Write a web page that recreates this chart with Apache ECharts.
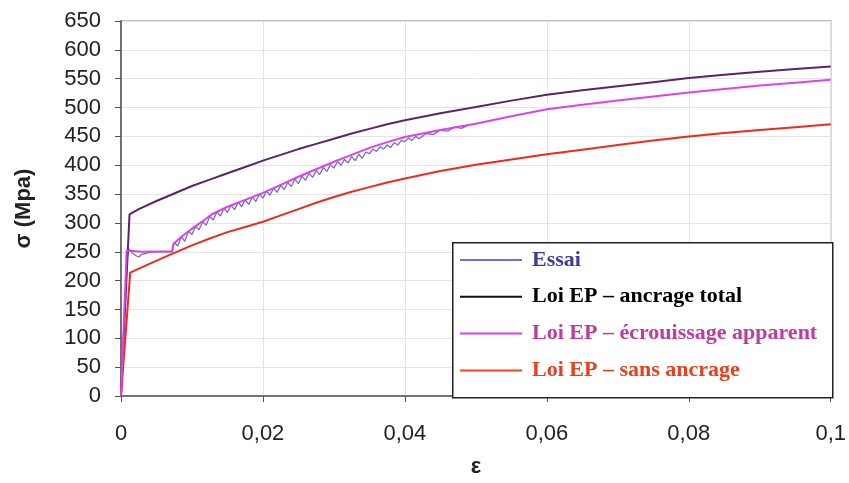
<!DOCTYPE html>
<html><head><meta charset="utf-8">
<script src="https://cdn.jsdelivr.net/npm/echarts@6/dist/echarts.min.js"></script>
<style>html,body{margin:0;padding:0;background:#fff}#c{width:849px;height:483px}</style>
</head><body><div id="c"></div>
<script>
// strain values (ε) and stress values (σ, MPa)
const epsTotal = [0, 0.0012, 0.0025, 0.005, 0.0075, 0.01, 0.0125, 0.015, 0.0175, 0.02, 0.0225, 0.025, 0.0275, 0.03, 0.0325, 0.035, 0.0375, 0.04, 0.045, 0.05, 0.055, 0.06, 0.065, 0.07, 0.075, 0.08, 0.085, 0.09, 0.095, 0.1];
const sigTotal = [0, 315, 324, 338, 351, 364, 375, 386, 397, 408, 418, 428, 437, 446, 455, 463, 471, 478, 490, 501, 512, 522, 530, 537, 544, 551, 557, 562, 567, 571];

const epsApp = [0, 0.0008, 0.003, 0.0072, 0.0074, 0.0085, 0.01, 0.0115, 0.0128, 0.015, 0.0175, 0.02, 0.0225, 0.025, 0.0275, 0.03, 0.0325, 0.035, 0.0375, 0.04, 0.045, 0.05, 0.055, 0.06, 0.065, 0.07, 0.075, 0.08, 0.085, 0.09, 0.095, 0.1];
const sigApp = [0, 252, 250, 251, 264, 276, 290, 303, 315, 328, 340, 352, 366, 380, 393, 406, 418, 430, 440, 449, 461, 472, 485, 497, 505, 512, 519, 526, 532, 538, 543, 548];

const epsSans = [0, 0.0013, 0.004, 0.0071, 0.01, 0.0125, 0.015, 0.0175, 0.02, 0.0225, 0.025, 0.0275, 0.03, 0.0325, 0.035, 0.0375, 0.04, 0.045, 0.05, 0.055, 0.06, 0.065, 0.07, 0.075, 0.08, 0.085, 0.09, 0.095, 0.1];
const sigSans = [0, 214, 229, 246, 261, 273, 284, 293, 302, 313, 324, 335, 345, 354, 362, 370, 377, 390, 401, 410, 419, 427, 435, 443, 450, 456, 461, 466, 471];

const epsEssai = [0, 0.0004, 0.0008, 0.0011, 0.0016, 0.002, 0.0025, 0.003, 0.0035, 0.004, 0.005, 0.006, 0.0072,
  0.0075, 0.008, 0.0085, 0.009, 0.0095, 0.01, 0.0105, 0.011, 0.0115, 0.012, 0.0125, 0.013, 0.0135, 0.014, 0.0145, 0.015,
  0.0155, 0.016, 0.0165, 0.017, 0.0175, 0.018, 0.0185, 0.019, 0.0195, 0.02, 0.0205, 0.021, 0.0215, 0.022, 0.0225, 0.023,
  0.0235, 0.024, 0.0245, 0.025, 0.0255, 0.026, 0.0265, 0.027, 0.0275, 0.028, 0.0285, 0.029, 0.0295, 0.03, 0.0305, 0.031,
  0.0315, 0.032, 0.0325, 0.033, 0.0335, 0.034, 0.0345, 0.035, 0.0355, 0.036, 0.0365, 0.037, 0.0375, 0.038, 0.0385, 0.039,
  0.0395, 0.04, 0.0405, 0.041, 0.0415, 0.042, 0.043, 0.044, 0.045, 0.046, 0.047, 0.048, 0.049];
const sigEssai = [0, 120, 232, 255, 248, 244, 241, 246, 247, 249, 250, 250, 250,
  266, 260, 276, 268, 286, 280, 294, 288, 302, 296, 311, 305, 319, 312, 325, 318,
  331, 323, 336, 328, 340, 332, 345, 337, 350, 343, 355, 348, 360, 353, 365, 358,
  370, 363, 376, 368, 381, 374, 386, 379, 391, 384, 396, 389, 401, 395, 406, 400,
  410, 404, 415, 408, 419, 412, 423, 420, 428, 424, 432, 428, 435, 431, 439, 435,
  443, 441, 447, 443, 450, 446, 455, 453, 461, 459, 466, 464, 470];

const yTicks = {min: 0, max: 650, step: 50};
const xTicks = {min: 0, max: 0.1, step: 0.02};

const names = ['Essai', 'Loi EP – ancrage total', 'Loi EP – écrouissage apparent', 'Loi EP – sans ancrage'];

const zip = (a, b) => a.map((v, i) => [v, b[i]]);

const chart = echarts.init(document.getElementById('c'), null, {renderer: 'canvas'});
const lbl = {fontFamily: 'Liberation Sans', fontSize: 22, color: '#222'};
const legFont = {fontFamily: 'Liberation Serif', fontSize: 22, fontWeight: 'bold'};

chart.setOption({
  animation: false,
  backgroundColor: '#fff',
  grid: {left: 121, right: 16, top: 21, bottom: 86, show: true, borderColor: '#a8a8a8', borderWidth: 1.5},
  xAxis: {
    type: 'value', min: xTicks.min, max: xTicks.max, interval: xTicks.step,
    name: 'ε', nameLocation: 'middle', nameGap: 60,
    nameTextStyle: {fontFamily: 'Liberation Sans', fontSize: 22, fontWeight: 'bold', color: '#222'},
    axisLine: {show: true, onZero: false, lineStyle: {color: '#555', width: 1.5}},
    axisTick: {show: true, length: 6, lineStyle: {color: '#555'}},
    splitLine: {show: true, lineStyle: {color: '#e4e4e4', width: 1}},
    axisLabel: Object.assign({margin: 27, formatter: v => v === 0 ? '0' : String(+v.toFixed(2)).replace('.', ',')}, lbl)
  },
  yAxis: {
    type: 'value', min: yTicks.min, max: yTicks.max, interval: yTicks.step,
    name: 'σ (Mpa)', nameLocation: 'middle', nameGap: 86, nameRotate: 90,
    nameTextStyle: {fontFamily: 'Liberation Sans', fontSize: 22, fontWeight: 'bold', color: '#222'},
    axisLine: {show: true, lineStyle: {color: '#555', width: 1.5}},
    axisTick: {show: true, length: 6, lineStyle: {color: '#555'}},
    splitLine: {show: true, lineStyle: {color: '#e4e4e4', width: 1}},
    axisLabel: Object.assign({margin: 20}, lbl)
  },
  graphic: [{
    type: 'rect', left: 452, top: 242, z: 10,
    shape: {width: 380, height: 155},
    style: {fill: '#fff', stroke: '#222', lineWidth: 1.5}
  }],
  legend: {
    orient: 'vertical', left: 460, top: 249, z: 20, padding: 0,
    itemWidth: 62, itemHeight: 2, itemGap: 14.8,
    icon: 'rect',
    selectedMode: false,
    data: [
      {name: names[0], itemStyle: {color: '#7070c4'}, textStyle: Object.assign({color: '#3c3c9c'}, legFont)},
      {name: names[1], itemStyle: {color: '#111'}, textStyle: Object.assign({color: '#000'}, legFont)},
      {name: names[2], itemStyle: {color: '#e040e8'}, textStyle: Object.assign({color: '#c03c9c'}, legFont)},
      {name: names[3], itemStyle: {color: '#f04a20'}, textStyle: Object.assign({color: '#e8401c'}, legFont)}
    ],
    textStyle: Object.assign({padding: [0, 0, 0, 5]}, legFont)
  },
  series: [
    {name: names[0], type: 'line', data: zip(epsEssai, sigEssai), symbol: 'none', z: 2,
     lineStyle: {color: '#7070c4', width: 1.3}, itemStyle: {color: '#7070c4'}},
    {name: names[1], type: 'line', data: zip(epsTotal, sigTotal), symbol: 'none', z: 3,
     lineStyle: {color: '#5c2468', width: 2}, itemStyle: {color: '#5c2468'}},
    {name: names[2], type: 'line', data: zip(epsApp, sigApp), symbol: 'none', z: 4,
     lineStyle: {color: '#e040e8', width: 2}, itemStyle: {color: '#e040e8'}},
    {name: names[3], type: 'line', data: zip(epsSans, sigSans), symbol: 'none', z: 3,
     lineStyle: {color: '#ee2a1c', width: 2}, itemStyle: {color: '#ee2a1c'}}
  ]
});
</script></body></html>
